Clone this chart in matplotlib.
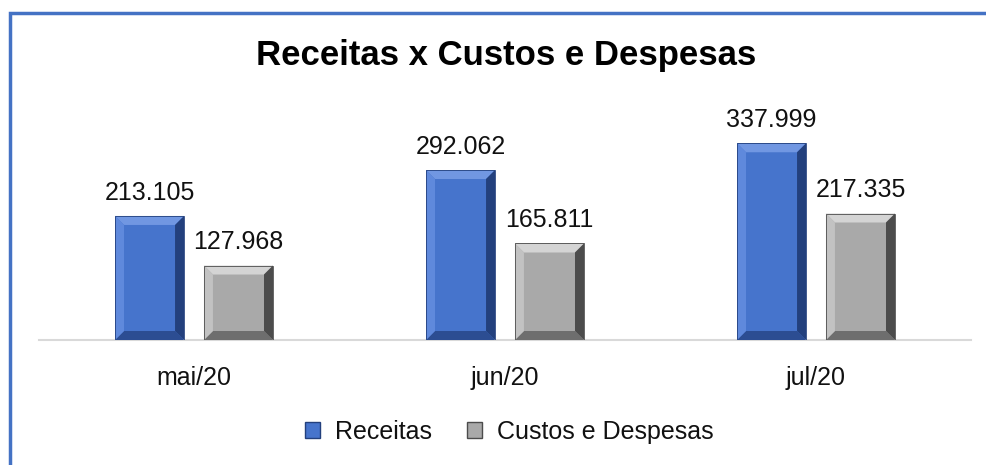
import numpy as np
import matplotlib
matplotlib.use("Agg")
import matplotlib.pyplot as plt
from matplotlib.patches import Polygon, Patch
from matplotlib.lines import Line2D

plt.rcParams['font.family'] = ['Liberation Sans', 'DejaVu Sans']

# --- data ---
categories = ['mai/20', 'jun/20', 'jul/20']
receitas = [213105, 292062, 337999]
custos = [127968, 165811, 217335]
series_names = ['Receitas', 'Custos e Despesas']

# colours: body, light bevel, dark bevel
blue = dict(body='#4674cc', top='#7197e2', left='#5f89dc', right='#23407d', bottom='#2c4d92')
gray = dict(body='#a9a9a9', top='#d4d4d4', left='#c2c2c2', right='#4c4c4c', bottom='#6e6e6e')


def fmt(v):
    return f"{v:,}".replace(",", ".")


def bevel_bars(ax, xs, heights, width, col, bevel_px=9):
    bars = ax.bar(xs, heights, width, color=col['body'], edgecolor='none', zorder=2)
    fig = ax.figure
    fig.canvas.draw()
    inv = ax.transData.inverted()
    for b in bars:
        x0, y0 = b.get_x(), b.get_y()
        x1, y1 = x0 + b.get_width(), y0 + b.get_height()
        # corners in pixels
        (px0, py0), (px1, py1) = ax.transData.transform([(x0, y0), (x1, y1)])
        d = bevel_px
        ip = [(px0 + d, py0 + d), (px1 - d, py0 + d), (px1 - d, py1 - d), (px0 + d, py1 - d)]
        op = [(px0, py0), (px1, py0), (px1, py1), (px0, py1)]
        o = inv.transform(op)
        i = inv.transform(ip)
        faces = [
            ([o[3], o[2], i[2], i[3]], col['top']),
            ([o[0], o[1], i[1], i[0]], col['bottom']),
            ([o[0], o[3], i[3], i[0]], col['left']),
            ([o[1], o[2], i[2], i[1]], col['right']),
        ]
        for pts, c in faces:
            ax.add_patch(Polygon(pts, closed=True, facecolor=c, edgecolor='none', zorder=3))
        ax.add_patch(Polygon(o, closed=True, facecolor='none', edgecolor=col['right'],
                             linewidth=0.6, zorder=4))
    return bars


fig = plt.figure(figsize=(9.87, 4.65), dpi=100)
W, H = 987, 465
ax = fig.add_axes([38.5 / W, 1 - 340 / H, (971.5 - 38.5) / W, 210 / H])

x = np.arange(len(categories))
width = 0.222
off = 0.143
ax.set_xlim(-0.5, len(categories) - 0.5)
ax.set_ylim(0, 360800)

bevel_bars(ax, x - off, receitas, width, blue)
bevel_bars(ax, x + off, custos, width, gray)

for xs, vals in [(x - off, receitas), (x + off, custos)]:
    for xi, v in zip(xs, vals):
        ax.annotate(fmt(v), (xi, v), xytext=(0, 8), textcoords='offset points',
                    ha='center', va='bottom', fontsize=18, color='#111111', zorder=5)

for s in ['top', 'left', 'right']:
    ax.spines[s].set_visible(False)
ax.spines['bottom'].set_color('#d9d9d9')
ax.spines['bottom'].set_linewidth(1.5)
ax.set_yticks([])
ax.set_xticks(x)
ax.set_xticklabels(categories, fontsize=18, color='#111111')
ax.tick_params(axis='x', length=0, pad=19)

fig.text(506 / W, 1 - 55 / H, 'Receitas x Custos e Despesas', ha='center', va='center',
         fontsize=25, fontweight='bold', color='#000000')

handles = [Patch(facecolor=blue['body'], edgecolor=blue['right']),
           Patch(facecolor=gray['body'], edgecolor=gray['right'])]
fig.legend(handles, series_names, loc='center', bbox_to_anchor=(509 / W, 1 - 432 / H),
           ncol=2, frameon=False, fontsize=18, handlelength=0.6, handleheight=0.6,
           handletextpad=0.6, columnspacing=1.4, labelcolor='#111111')

# chart frame (only top and left edges are visible in the crop)
border = '#4472c4'
fig.add_artist(Line2D([10 / W, 10 / W, 1], [0, 1 - 13 / H, 1 - 13 / H],
                      transform=fig.transFigure, color=border, linewidth=2.5,
                      solid_joinstyle='miter'))

fig.savefig('out.png', dpi=100)
